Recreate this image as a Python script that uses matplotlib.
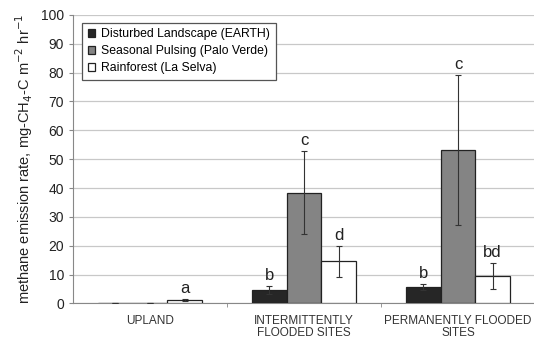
import matplotlib.pyplot as plt
import numpy as np

plt.rcParams["font.family"] = ["Liberation Sans", "DejaVu Sans"]

sites = ["UPLAND", "INTERMITTENTLY\nFLOODED SITES", "PERMANENTLY FLOODED\nSITES"]
series = ["Disturbed Landscape (EARTH)", "Seasonal Pulsing (Palo Verde)", "Rainforest (La Selva)"]
earth = [0.0, 4.7, 5.8]
earth_err = [0.0, 1.5, 1.0]
palo_verde = [0.0, 38.4, 53.2]
palo_verde_err = [0.0, 14.5, 26.0]
la_selva = [1.2, 14.6, 9.5]
la_selva_err = [0.3, 5.3, 4.6]
letters = [["", "b", "b"], ["", "c", "c"], ["a", "d", "bd"]]

colors = ["#262626", "#848484", "#ffffff"]

fig = plt.figure(figsize=(5.34, 3.39), dpi=100)
ax = fig.add_axes([0.137, 0.105, 0.865, 0.851])

x = np.arange(len(sites))
w = 0.225
vals = [earth, palo_verde, la_selva]
errs = [earth_err, palo_verde_err, la_selva_err]

for i, (v, e, c, name) in enumerate(zip(vals, errs, colors, series)):
    pos = x + (i - 1) * w
    ax.bar(pos, v, w, color=c, edgecolor="#222222", linewidth=0.9, label=name, zorder=3)
    ax.errorbar(pos, v, yerr=e, fmt="none", ecolor="#333333", elinewidth=0.8,
                capsize=2, capthick=0.8, zorder=4)
    for p, val, er, lab in zip(pos, v, e, letters[i]):
        if lab:
            ax.annotate(lab, (p, val + er), xytext=(0, 2), textcoords="offset points",
                        ha="center", va="bottom", fontsize=12, color="#222222")

ax.set_xlim(-0.5, 2.5)
ax.set_ylim(0, 100)
ax.set_yticks(range(0, 101, 10))
ax.yaxis.grid(True, color="#c8c8c8", linewidth=0.9, zorder=0)
ax.set_axisbelow(True)
ax.set_xticks(x)
ax.set_xticklabels(sites, fontsize=8.5, color="#333333", linespacing=1.0)
ax.tick_params(axis="x", length=0, pad=8)
ax.set_xticks([0.5, 1.5], minor=True)
ax.tick_params(axis="x", which="minor", length=3, color="#888888")
ax.tick_params(axis="y", labelsize=10, length=3, color="#888888", labelcolor="#222222")

for s in ["top", "right"]:
    ax.spines[s].set_visible(False)
ax.spines["left"].set_color("#888888")
ax.spines["bottom"].set_color("#888888")

ax.set_ylabel("methane emission rate, mg-CH$_4$-C m$^{-2}$ hr$^{-1}$", fontsize=10.5,
              color="#222222", labelpad=4)

leg = ax.legend(loc="upper left", bbox_to_anchor=(0.02, 0.972), borderaxespad=0,
                fontsize=8.8, handlelength=0.6, handleheight=0.6, handletextpad=0.5,
                borderpad=0.45, labelspacing=0.4, fancybox=False, framealpha=1,
                edgecolor="#555555")
leg.get_frame().set_linewidth(0.9)

fig.savefig("out.png", dpi=100)
